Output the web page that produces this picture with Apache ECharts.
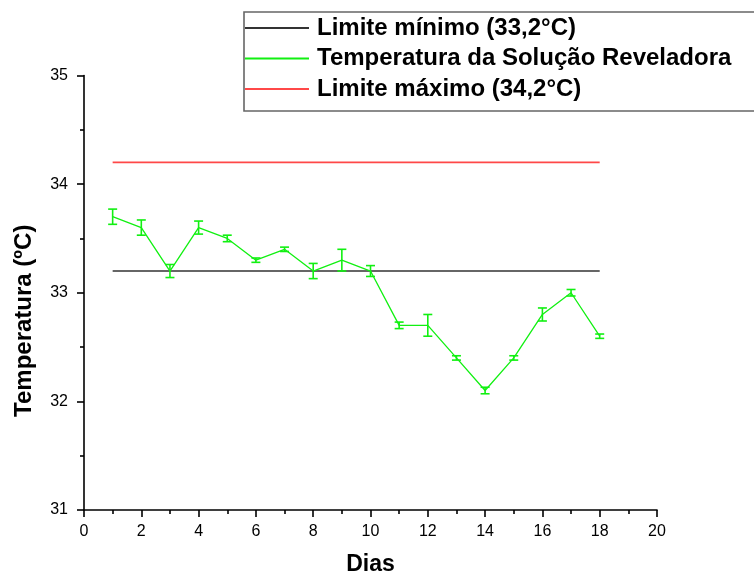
<!DOCTYPE html>
<html>
<head>
<meta charset="utf-8">
<script src="https://cdn.jsdelivr.net/npm/echarts@6/dist/echarts.min.js"></script>
<style>html,body{margin:0;padding:0;background:#fff;}#c{width:754px;height:577px;}</style>
</head>
<body>
<div id="c"></div>
<script>
var days = [1,2,3,4,5,6,7,8,9,10,11,12,13,14,15,16,17,18];
var temps = [33.7,33.6,33.2,33.6,33.5,33.3,33.4,33.2,33.3,33.2,32.7,32.7,32.4,32.1,32.4,32.8,33.0,32.6];
var errs = [0.07,0.07,0.06,0.06,0.03,0.02,0.02,0.07,0.1,0.05,0.03,0.1,0.02,0.03,0.02,0.06,0.03,0.02];
var limitDays = [1,18];
var limitMin = 33.2;
var limitMax = 34.2;
var xTicks = {min:0,max:20,interval:2};
var yTicks = {min:31,max:35,interval:1};
var names = ['Limite mínimo (33,2°C)','Temperatura da Solução Reveladora','Limite máximo (34,2°C)'];

var FONT = 'Liberation Sans, Arial, sans-serif';
var GREEN = '#11f011';
var chart = echarts.init(document.getElementById('c'));
var tempData = days.map(function(d,i){return [d,temps[i]];});
var errData = days.map(function(d,i){return [d,temps[i]-errs[i],temps[i]+errs[i]];});
var axisCommon = {
  axisLine:{show:true,onZero:false,lineStyle:{color:'#000',width:1.6}},
  axisTick:{show:true,inside:false,length:7,lineStyle:{color:'#000',width:1.6}},
  minorTick:{show:true,splitNumber:2,length:4,lineStyle:{color:'#000',width:1.6}},
  splitLine:{show:false}
};
chart.setOption({
  animation:false,
  backgroundColor:'#fff',
  grid:{left:84,right:97,top:75.5,bottom:67,containLabel:false,outerBoundsMode:'none'},
  legend:{
    orient:'vertical',left:244,top:12,
    data:names,
    itemWidth:64,itemHeight:14,itemGap:6.5,
    padding:[4,300,10,0],
    borderColor:'#666',borderWidth:1.6,
    itemStyle:{opacity:0},
    textStyle:{fontFamily:FONT,fontSize:24,fontWeight:'bold',color:'#000',padding:[0,0,0,3]},
    selectedMode:false
  },
  xAxis:Object.assign({}, axisCommon, {
    type:'value',min:xTicks.min,max:xTicks.max,interval:xTicks.interval,
    name:'Dias',nameLocation:'middle',nameGap:43,
    nameTextStyle:{fontFamily:FONT,fontSize:23,fontWeight:'bold',color:'#000'},
    axisLabel:{color:'#000',fontFamily:FONT,fontSize:16,margin:14}
  }),
  yAxis:Object.assign({}, axisCommon, {
    type:'value',min:yTicks.min,max:yTicks.max,interval:yTicks.interval,
    name:'Temperatura (ºC)',nameLocation:'middle',nameGap:48,
    nameTextStyle:{fontFamily:FONT,fontSize:24,fontWeight:'bold',color:'#000',padding:[0,56,0,0]},
    axisLabel:{color:'#000',fontFamily:FONT,fontSize:16,margin:16}
  }),
  series:[
    {name:names[0],type:'line',symbol:'none',data:limitDays.map(function(d){return [d,limitMin];}),
     lineStyle:{color:'#333',width:1.5},itemStyle:{color:'#333'}},
    {name:names[1],type:'line',symbol:'none',data:tempData,
     lineStyle:{color:GREEN,width:1.3},itemStyle:{color:GREEN}},
    {name:names[2],type:'line',symbol:'none',data:limitDays.map(function(d){return [d,limitMax];}),
     lineStyle:{color:'#ff4848',width:1.6},itemStyle:{color:'#ff4848'}},
    {type:'custom',name:'err',data:errData,z:5,
     renderItem:function(params,api){
       var x=api.value(0);
       var lo=api.coord([x,api.value(1)]);
       var hi=api.coord([x,api.value(2)]);
       var w=4.5;
       var st={stroke:GREEN,lineWidth:1.6};
       return {type:'group',children:[
         {type:'line',shape:{x1:lo[0],y1:lo[1],x2:hi[0],y2:hi[1]},style:st},
         {type:'line',shape:{x1:lo[0]-w,y1:lo[1],x2:lo[0]+w,y2:lo[1]},style:st},
         {type:'line',shape:{x1:hi[0]-w,y1:hi[1],x2:hi[0]+w,y2:hi[1]},style:st}
       ]};
     }}
  ]
});
</script>
</body>
</html>
